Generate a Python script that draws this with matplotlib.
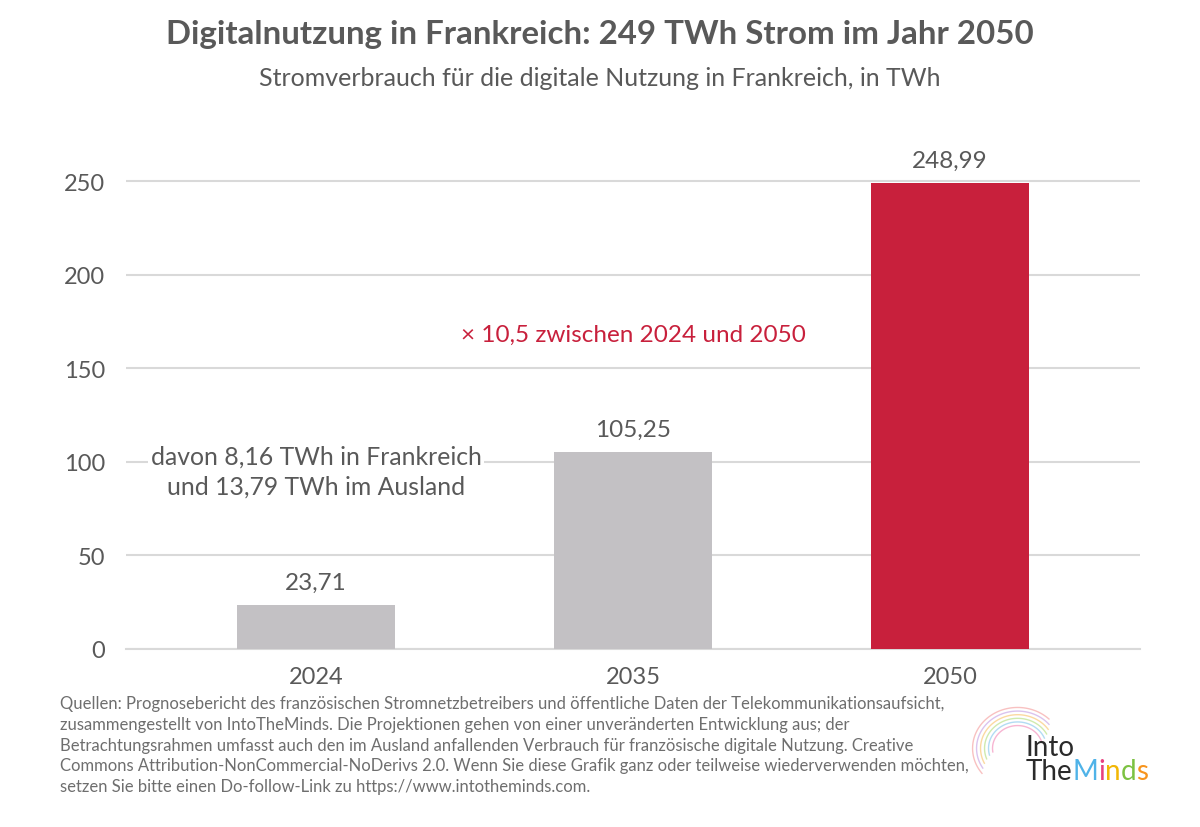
import numpy as np
import matplotlib
matplotlib.use("Agg")
from matplotlib import pyplot as plt

years = ["2024", "2035", "2050"]
values = [23.71, 105.25, 248.99]
labels = ["23,71", "105,25", "248,99"]
yticks = [0, 50, 100, 150, 200, 250]

title = "Digitalnutzung in Frankreich: 249 TWh Strom im Jahr 2050"
subtitle = "Stromverbrauch für die digitale Nutzung in Frankreich, in TWh"
note_2024 = "davon 8,16 TWh in Frankreich\nund 13,79 TWh im Ausland"
note_growth = "× 10,5 zwischen 2024 und 2050"
source = ("Quellen: Prognosebericht des französischen Stromnetzbetreibers und öffentliche Daten der Telekommunikationsaufsicht,\n"
          "zusammengestellt von IntoTheMinds. Die Projektionen gehen von einer unveränderten Entwicklung aus; der\n"
          "Betrachtungsrahmen umfasst auch den im Ausland anfallenden Verbrauch für französische digitale Nutzung. Creative\n"
          "Commons Attribution-NonCommercial-NoDerivs 2.0. Wenn Sie diese Grafik ganz oder teilweise wiederverwenden möchten,\n"
          "setzen Sie bitte einen Do-follow-Link zu https://www.intotheminds.com.")

plt.rcParams["font.family"] = ["Lato", "DejaVu Sans"]
text_grey = "#595959"
bar_grey = "#c3c1c4"
red = "#c8203c"
grid_grey = "#d9d9d9"

fig = plt.figure(figsize=(12, 8.28), dpi=100)
ax = fig.add_axes([0.105, 0.215, 0.845, 0.61])

x = np.arange(len(years))
colours = [bar_grey, bar_grey, red]
ax.bar(x, values, width=0.5, color=colours, zorder=3)

for xi, v, lab in zip(x, values, labels):
    ax.text(xi, v + 6.5, lab, ha="center", va="bottom", fontsize=17.5, color=text_grey)

ax.set_xlim(-0.6, 2.6)
ax.set_ylim(0, 270)
ax.set_yticks(yticks)
ax.set_xticks(x)
ax.set_xticklabels(years)
ax.tick_params(axis="both", length=0, labelsize=17, labelcolor=text_grey)
ax.tick_params(axis="x", pad=12)
ax.tick_params(axis="y", pad=15)
ax.grid(axis="y", color=grid_grey, linewidth=1.5, zorder=0)
for s in ["top", "right", "left"]:
    ax.spines[s].set_visible(False)
ax.spines["bottom"].set_color(grid_grey)
ax.spines["bottom"].set_linewidth(1.5)

ax.text(0.0, 95, note_2024, ha="center", va="center", fontsize=17.8, color=text_grey,
        linespacing=1.4, bbox=dict(facecolor="white", edgecolor="none", pad=2), zorder=4)
ax.text(1.0, 168, note_growth, ha="center", va="center", fontsize=17.5, color=red)

fig.text(0.5, 0.958, title, ha="center", va="center", fontsize=23.8, fontweight="bold", color=text_grey)
fig.text(0.5, 0.905, subtitle, ha="center", va="center", fontsize=18, color=text_grey)
fig.text(0.05, 0.159, source, ha="left", va="top", fontsize=12, color="#6e6e6e", linespacing=1.36)

# logo
theta = np.linspace(0.3, 3.3, 80)
swirl = ["#f5a3c7", "#9fd3f0", "#c4e59a", "#fbd08a", "#d2b4ea", "#f7b2b2"]
for i, c in enumerate(swirl):
    r = 0.022 + i * 0.0035
    fig.lines.append(plt.Line2D(0.848 + r * 0.95 * np.cos(theta + 0.1 * i),
                                0.095 + r * 1.25 * np.sin(theta + 0.1 * i),
                                transform=fig.transFigure, color=c, linewidth=1.0, alpha=0.8))
fig.text(0.855, 0.0815, "Into", ha="left", va="bottom", fontsize=20, color="#2a2a2a")
logo = [("The", "#2a2a2a"), ("M", "#4fb3e8"), ("i", "#e8407f"), ("n", "#f2b705"),
        ("d", "#7cc242"), ("s", "#f7941d")]
xpos = 0.855
renderer = fig.canvas.get_renderer()
for s, c in logo:
    tt = fig.text(xpos, 0.052, s, ha="left", va="bottom", fontsize=20, color=c)
    bb = tt.get_window_extent(renderer=renderer)
    xpos += bb.width / fig.bbox.width

fig.savefig("out.png", dpi=100, facecolor="white")
